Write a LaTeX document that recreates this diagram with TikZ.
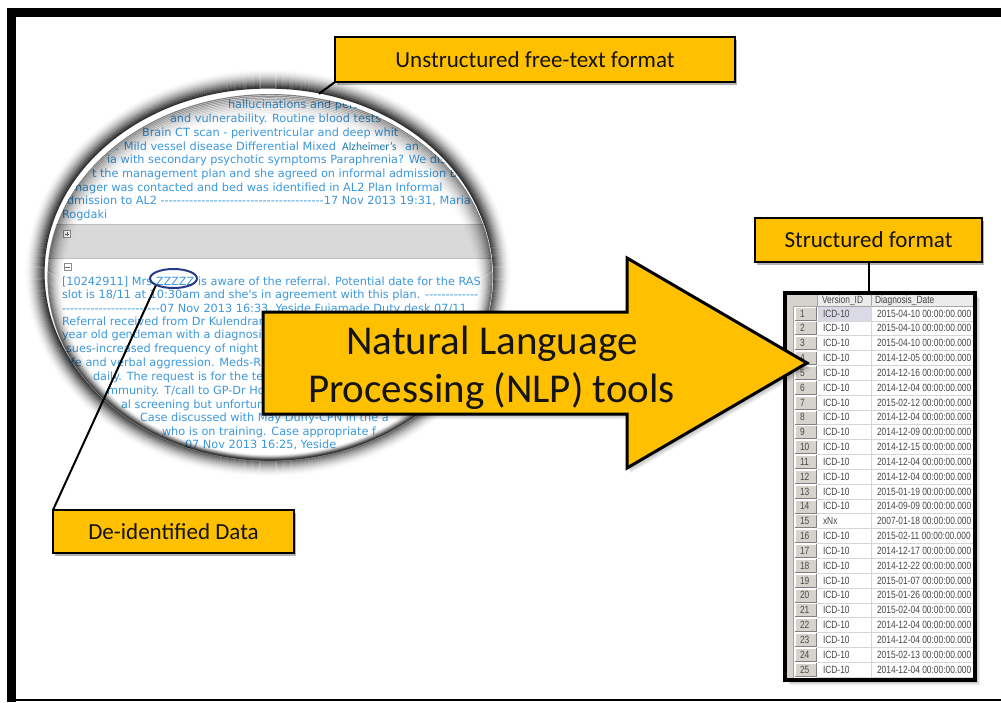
\documentclass[tikz,border=0pt]{standalone}
\usepackage{fontspec}
\setmainfont{Carlito}
\newfontfamily\notefont[Ligatures={TeXOff,CommonOff}]{DejaVu Sans}
\newfontfamily\gridfont{Liberation Sans}
\usetikzlibrary{shapes.geometric}

\definecolor{gold}{HTML}{FFC000}
\definecolor{notetext}{RGB}{60,152,220}
\definecolor{notetag}{RGB}{28,122,170}
\definecolor{navy}{RGB}{38,58,138}
\definecolor{panelgrey}{RGB}{217,217,217}
\definecolor{paneledge}{RGB}{190,190,190}
\definecolor{btngrey}{RGB}{214,210,204}
\definecolor{btndark}{RGB}{128,128,128}
\definecolor{headgrey}{RGB}{236,236,236}
\definecolor{gridline}{RGB}{214,214,214}
\definecolor{celltext}{RGB}{70,70,70}
\definecolor{selcell}{RGB}{218,218,230}

\newcommand\narrowtxt[1]{\scalebox{0.8}[1]{#1}}

\tikzset{
  callout/.style={draw=black, line width=2.6pt, fill=gold, inner sep=0pt, outer sep=0pt,
    font=\fontsize{23}{26}\selectfont, text=black!92,
    preaction={fill=black, opacity=0.3, transform canvas={shift={(2pt,-2.5pt)}}}},
  leader/.style={draw=black, line width=2pt},
  noteline/.style={anchor=base west, inner sep=0pt, outer sep=0pt, text=notetext,
    font=\notefont\fontsize{11.3}{13.7}\selectfont},
  cell/.style={anchor=base west, inner sep=0pt, outer sep=0pt, text=celltext,
    font=\gridfont\fontsize{10.5}{12}\selectfont},
  rownum/.style={cell, text=black!70},
  toggle/.style={draw=black!45, fill=white, line width=0.6pt, minimum size=7pt, inner sep=0pt},
}

\begin{document}
\begin{tikzpicture}[x=1pt, y=-1pt]
\useasboundingbox (0,0) rectangle (1001,702);
\fill[white] (0,0) rectangle (1001,702);

% page frame
\fill[black] (7,8) rectangle (1001,16.5);
\fill[black] (7,8) rectangle (15.5,702);
\fill[black] (15,699.3) rectangle (1001,701);

% ---------------- magnifier lens ----------------
\foreach \k [evaluate=\k as \op using {0.85*(1-\k/21)^2}] in {1,...,20}
  \draw[black, opacity=\op, line width=1.2pt] (268,273) ellipse [x radius={223+\k}, y radius={184+\k}];
\node[ellipse, fill=white, minimum width=446pt, minimum height=368pt, inner sep=0pt, outer sep=0pt] (lens) at (270,277) {};

\begin{scope}
  \clip (270,277) ellipse [x radius=223, y radius=184];
  % collapsed record bar
  \fill[panelgrey] (40,224) rectangle (500,258);
  \draw[paneledge, line width=0.8pt] (40,224) -- (500,224) (40,258) -- (500,258);
  \node[toggle] (plusbox) at (67,234) {};
  \draw[black!60, line width=0.7pt] (64.8,234) -- (69.2,234) (67,231.8) -- (67,236.2);
  \node[toggle] (minusbox) at (67.5,267) {};
  \draw[black!60, line width=0.7pt] (65.3,267) -- (69.7,267);

  % previous note
  \node[noteline] (t1) at (228,108.7) {hallucinations and perse};
  \node[noteline] (t2) at (170,122.7) {and vulnerability. Routine blood tests};
  \node[noteline] (t3) at (142,136) {Brain CT scan - periventricular and deep whit};
  \node[noteline, anchor=base east] (t4) at (336,150) {. Mild vessel disease Differential Mixed};
  \node[anchor=base west, inner sep=0pt, text=notetag, font=\fontsize{11.5}{13}\selectfont] (t4b) at (342,150) {Alzheimer's};
  \node[noteline] (t4c) at (405,150) {an};
  \node[noteline] (t5) at (107,163.3) {ia with secondary psychotic symptoms Paraphrenia? We dis};
  \node[noteline] (t6) at (92,177) {t the management plan and she agreed on informal admission Be};
  \node[noteline] (t7) at (75,191) {nager was contacted and bed was identified in AL2 Plan Informal};
  \node[noteline] (t8) at (67,204.3) {dmission to AL2 ----------------------------------------17 Nov 2013 19:31, Maria};
  \node[noteline] (t9) at (62,218.3) {Rogdaki};

  % expanded note
  \node[noteline] (b1) at (62,285) {[10242911] Mrs ZZZZZ is aware of the referral. Potential date for the RAS};
  \node[noteline] (b2) at (62,298.3) {slot is 18/11 at 10:30am and she's in agreement with this plan. -------------};
  \node[noteline] (b3) at (62,312) {------------------------07 Nov 2013 16:33, Yeside Fujamade Duty desk 07/11};
  \node[noteline] (b4) at (62,325.3) {Referral received from Dr Kulendran};
  \node[noteline] (b5) at (62,338.7) {year old gentleman with a diagnosis};
  \node[noteline] (b6) at (66,352.7) {sues-increased frequency of night};
  \node[noteline] (b7) at (71,366.7) {fe and verbal aggression. Meds-R};
  \node[noteline] (b8) at (93,380.3) {daily. The request is for the te};
  \node[noteline] (b9) at (107,394.3) {mmunity. T/call to GP-Dr Holl};
  \node[noteline] (b10) at (121,408.3) {al screening but unfortuna};
  \node[noteline] (b11) at (140,421.7) {Case discussed with May Duffy-CPN in the a};
  \node[noteline] (b12) at (162,435.3) {who is on training. Case appropriate f};
  \node[noteline] (b13) at (185,448.7) {07 Nov 2013 16:25, Yeside};

  % inner shading of the lens rim, deeper along the top
  \foreach \k [evaluate=\k as \op using {0.55*(1-\k/18)^2}] in {1,...,17}
    \draw[black, opacity=\op, line width=1.2pt] (270,{277+0.6*\k}) ellipse [x radius={223-\k}, y radius={184-\k}];
\end{scope}

% highlighted patient name
\node[ellipse, draw=navy, line width=2pt, minimum width=47pt, minimum height=19pt, inner sep=0pt] (zz) at (173.5,278.5) {};

% ---------------- result grid ----------------
\foreach \k in {1,...,5}
  \fill[black, opacity=0.07] ({785+\k},{293+\k}) rectangle ({975+\k},{680+\k});
\node[draw=black, line width=3.2pt, fill=white, minimum width=190pt, minimum height=387pt,
      inner sep=0pt, outer sep=0pt] (tbl) at (880,486.5) {};
\fill[btngrey] (786.6,294.6) rectangle (793,678.4);
\draw[btndark!70, line width=0.6pt] (793,294.6) -- (793,678.4);
\fill[headgrey] (793,294.6) rectangle (973.4,306);
\fill[btngrey] (793,294.6) rectangle (817,306);
\draw[black!35, line width=0.6pt] (817,294.6) -- (817,306) (871,294.6) -- (871,306) (793,306) -- (973.4,306);
\node[cell] (hver) at (822,303.5) {\narrowtxt{Version\_ID}};
\node[cell] (hdate) at (875,303.5) {\narrowtxt{Diagnosis\_Date}};
\fill[selcell] (817.5,306.5) rectangle (870.5,320.5);
\draw[gridline, line width=0.6pt] (871,306) -- (871,678.4);
\foreach \v/\dt [count=\i] in {
  ICD-10/2015-04-10, ICD-10/2015-04-10, ICD-10/2015-04-10, ICD-10/2014-12-05,
  ICD-10/2014-12-16, ICD-10/2014-12-04, ICD-10/2015-02-12, ICD-10/2014-12-04,
  ICD-10/2014-12-09, ICD-10/2014-12-15, ICD-10/2014-12-04, ICD-10/2014-12-04,
  ICD-10/2015-01-19, ICD-10/2014-09-09, xNx/2007-01-18, ICD-10/2015-02-11,
  ICD-10/2014-12-17, ICD-10/2014-12-22, ICD-10/2015-01-07, ICD-10/2015-01-26,
  ICD-10/2015-02-04, ICD-10/2014-12-04, ICD-10/2014-12-04, ICD-10/2015-02-13,
  ICD-10/2014-12-04}{
  \pgfmathsetmacro\yt{306+(\i-1)*14.84}
  \draw[gridline, line width=0.6pt] (817,{\yt+14.84}) -- (973.4,{\yt+14.84});
  \fill[btngrey] (795,{\yt+1}) rectangle (816.5,{\yt+14});
  \draw[white, line width=0.7pt] (795,{\yt+14}) -- (795,{\yt+1}) -- (816.5,{\yt+1});
  \draw[btndark, line width=0.7pt] (795,{\yt+14}) -- (816.5,{\yt+14}) -- (816.5,{\yt+1});
  \node[rownum] (num\i) at (800,{\yt+11}) {\narrowtxt{\i}};
  \node[cell] (ver\i) at (823,{\yt+11}) {\narrowtxt{\v}};
  \node[cell] (dat\i) at (877,{\yt+11}) {\narrowtxt{\dt\ 00:00:00.000}};
}

% ---------------- processing arrow ----------------
\foreach \k in {1,...,6}
  \fill[black, opacity=0.05, shift={({\k*0.6},{\k*0.9})}]
    (263,312) -- (627,312) -- (627,258) -- (807,363) -- (627,468) -- (627,414) -- (263,414) -- cycle;
\draw[line width=3pt, fill=gold]
  (263,312) -- (627,312) -- (627,258) -- (807,363) -- (627,468) -- (627,414) -- (263,414) -- cycle;
\node[anchor=base, inner sep=0pt, text=black!92, font=\fontsize{41}{48}\selectfont] (nlp1) at (492,354) {Natural Language};
\node[anchor=base, inner sep=0pt, text=black!92, font=\fontsize{41}{48}\selectfont] (nlp2) at (491.5,402) {Processing (NLP) tools};

% ---------------- callouts ----------------
\node[callout, minimum width=400pt, minimum height=45pt] (ubox) at (535,59.5) {Unstructured free-text format};
\node[callout, minimum width=227pt, minimum height=44pt] (sbox) at (868.5,240) {Structured format};
\node[callout, minimum width=241pt, minimum height=43pt] (dbox) at (173.5,531.5) {De-identified Data};

\draw[leader, shorten >=5pt] (ubox.south west) -- (lens.76);
\draw[leader] (dbox.north west) -- (zz.202);
\draw[leader] (sbox.south) -- (sbox.south |- tbl.north);
\end{tikzpicture}
\end{document}
